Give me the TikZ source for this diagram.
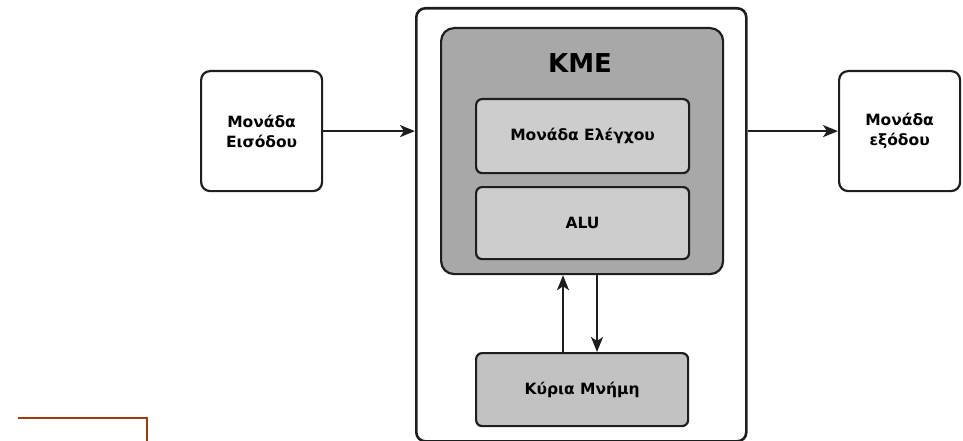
\documentclass[tikz,border=0pt]{standalone}
\usepackage{fontspec}
\setmainfont{DejaVu Sans}
\usetikzlibrary{arrows.meta}
\definecolor{edge}{HTML}{1E1E1E}
\definecolor{kmefill}{HTML}{A8A8A8}
\definecolor{unitfill}{HTML}{CDCDCD}
\definecolor{memfill}{HTML}{C2C2C2}
\definecolor{rust}{HTML}{A33A0A}
\tikzset{
  x=1pt, y=-1pt,
  box/.style={draw=edge, line width=2.2pt, rounded corners=9pt, inner sep=0pt, anchor=north west, align=center, font=\bfseries\fontsize{15.5}{20}\selectfont},
  flow/.style={draw=edge, line width=2.2pt, -{Stealth[length=15pt,width=12pt,inset=4pt]}}
}
\begin{document}
\begin{tikzpicture}
\useasboundingbox (0,0) rectangle (963,441);
% outer system frame
\node[box, minimum width=330pt, minimum height=433pt, line width=2.6pt] (sys) at (415,7) {};
% central processing unit
\node[box, fill=kmefill, minimum width=282pt, minimum height=246pt, rounded corners=13pt] (kme) at (440,27) {};
\node[font=\bfseries\fontsize{26}{30}\selectfont] (kmelabel) at (580,63) {KME};
\node[box, fill=unitfill, minimum width=213pt, minimum height=74pt, rounded corners=6pt] (ctrl) at (475,98) {Μονάδα Ελέγχου};
\node[box, fill=unitfill, minimum width=213pt, minimum height=72pt, rounded corners=6pt] (alu) at (475,186) {ALU};
% main memory
\node[box, fill=memfill, minimum width=212pt, minimum height=73pt, rounded corners=6pt] (mem) at (475,352) {Κύρια Μνήμη};
% input / output units
\node[box, fill=white, minimum width=121pt, minimum height=120pt] (in) at (200,70) {Μονάδα\\Εισόδου};
\node[box, fill=white, minimum width=121pt, minimum height=120pt] (out) at (838,70) {Μονάδα\\εξόδου};
% data flow
\draw[flow] (in.east) -- (in.east -| sys.west);
\draw[flow] (out.west -| sys.east) -- (out.west);
\coordinate (upx) at (563,0);
\coordinate (dnx) at (597,0);
\draw[flow] (upx |- mem.north) -- (upx |- kme.south);
\draw[flow] (dnx |- kme.south) -- (dnx |- mem.north);
% corner mark
\coordinate (m1) at (18,418);
\coordinate (m2) at (147,418);
\coordinate (m3) at (147,441);
\draw[rust, line width=2pt] (m1) -- (m2) -- (m3);
\end{tikzpicture}
\end{document}
